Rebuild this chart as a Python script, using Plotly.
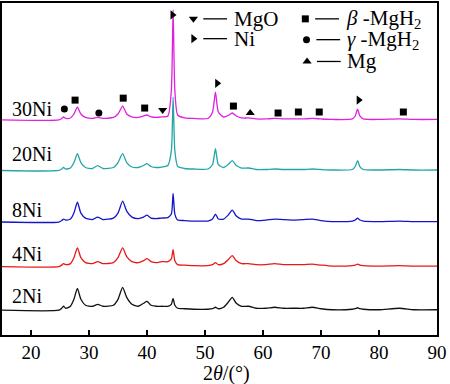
import plotly.graph_objects as go

# ---------------- data ----------------
two_theta = [15, 24.8, 25.3, 25.6, 26.0, 26.8, 27.4, 28.0, 28.6, 29.4, 30.6, 31.5, 32.4,
             34.2, 35.0, 35.8, 36.5, 37.4, 38.5, 39.4, 40.0, 40.7, 41.6, 42.5, 43.6,
             44.2, 44.5, 44.8, 45.3, 46.5, 48, 50.5, 51.3, 51.8, 52.3, 53.2, 54.0, 54.7,
             55.4, 56.3, 57.5, 58.8, 60.5, 62.0, 63.5, 65.5, 67, 68.5, 70, 72, 75.4,
             75.9, 76.3, 76.7, 77.3, 80, 83.5, 86, 90]

int_30Ni = [0, 0, 1.5, 3, 1.5, 2, 6, 13, 6, 2.5, 1.5, 2.5, 1.5,
            2.5, 6, 14, 6, 3, 2.5, 4, 5, 3, 2.5, 3, 4,
            30, 111, 30, 5, 2, 1.5, 1.5, 8, 28, 8, 3, 4.5, 7,
            4, 2, 2, 1, 1, 1.5, 1, 1, 1, 1.5, 1, 0.5, 1,
            4, 11, 4, 1, 0.5, 1, 0.5, 0.5]
int_20Ni = [0, 0, 1.5, 3, 1.5, 2.5, 8, 17, 8, 3, 2, 5, 2,
            3, 8, 17, 8, 3.5, 3, 5, 7, 4, 3, 3.5, 5,
            20, 74, 20, 4, 2, 1.5, 1.5, 6, 22, 6, 3, 6, 10,
            5, 2.5, 2.5, 1, 1, 1.5, 1, 1, 1, 1.5, 1, 0.5, 1,
            4, 10, 4, 1, 0.5, 1, 0.5, 0.5]
int_8Ni = [0, 0, 1.5, 3, 2, 3, 9, 20, 9, 4, 2.5, 5, 2.5,
           4, 9, 21, 11, 5, 3.5, 5, 7, 4, 3.5, 4, 4.5,
           8, 29, 8, 2, 1.5, 1, 1, 3, 8, 3, 3, 7, 12,
           6, 3, 3, 1.5, 2, 3, 2.5, 2, 2.5, 3, 1.5, 0.5, 1,
           2, 4, 2, 1, 0.5, 1, 0.5, 0.5]
int_4Ni = [0, 0, 1.5, 3, 2, 3, 9, 19, 9, 4, 3, 5, 3,
           4, 9, 19, 10, 5, 4, 6, 8, 5, 4, 5, 5,
           8, 17, 6, 2, 1.5, 1, 1, 2, 4, 2, 3, 7, 11,
           6, 3, 3, 2, 2, 3, 2, 2, 2, 2.5, 1.5, 0.5, 1,
           1.5, 2.5, 1.5, 1, 0.5, 1, 0.5, 0.5]
int_2Ni = [0, 0, 2, 4, 2, 4, 11, 22, 11, 5, 4, 6, 4,
           5, 11, 23, 13, 6, 4, 7, 9, 5, 4, 4, 4,
           6, 12, 5, 2, 1.5, 1, 1, 1.5, 3, 1.5, 3, 8, 13,
           7, 4, 4, 2, 2, 3, 2, 2, 2, 3, 1.5, 0.5, 1,
           1.5, 2.5, 1.5, 1, 0.5, 2, 0.5, 0.5]

sample_names = ["2Ni", "4Ni", "8Ni", "20Ni", "30Ni"]
sample_offsets = [25, 69, 114, 166, 217]
sample_colors = ["#111111", "#e81818", "#1414c8", "#22a6a6", "#e020e0"]
sample_intensity = [int_2Ni, int_4Ni, int_8Ni, int_20Ni, int_30Ni]
label_heights = [39, 82, 126, 183, 228]

# phase markers above the 30Ni pattern
phase_theta = [25.75, 27.6, 31.7, 35.9, 39.6, 42.7, 44.4, 52.1, 54.9, 57.8, 62.6, 66.1, 69.7, 76.5, 84.2]
phase_height = [228, 237, 224, 239, 229, 227, 323, 254, 231, 224, 224, 225, 225, 237, 225]
phase_kind = ["gamma", "beta", "gamma", "beta", "beta", "MgO", "Ni", "Ni", "beta", "Mg",
              "beta", "beta", "beta", "Ni", "beta"]

legend_kind = ["MgO", "Ni", "beta", "gamma", "Mg"]
legend_text = ["MgO", "Ni", "<i>β</i> -MgH<sub>2</sub>", "<i>γ</i> -MgH<sub>2</sub>", "Mg"]
legend_theta = [48.0, 48.0, 67.3, 67.5, 67.6]
legend_height = [319, 299, 319, 298, 276]

x_ticks = [20, 30, 40, 50, 60, 70, 80, 90]

symbols = {"MgO": "triangle-down", "Ni": "triangle-right", "beta": "square",
           "gamma": "circle", "Mg": "triangle-up"}
sizes = {"MgO": 8, "Ni": 8, "beta": 7, "gamma": 7, "Mg": 8}

FONT = "Liberation Serif, Times New Roman, serif"

fig = go.Figure()

for name, off, col, inten in zip(sample_names, sample_offsets, sample_colors, sample_intensity):
    fig.add_trace(go.Scatter(
        x=two_theta, y=[off + v for v in inten], mode="lines",
        line=dict(color=col, width=1.3, shape="spline", smoothing=0.6),
        showlegend=False, hoverinfo="skip"))

for kind in symbols:
    xs = [t for t, k in zip(phase_theta, phase_kind) if k == kind]
    ys = [h for h, k in zip(phase_height, phase_kind) if k == kind]
    lx = [t for t, k in zip(legend_theta, legend_kind) if k == kind]
    ly = [h for h, k in zip(legend_height, legend_kind) if k == kind]
    fig.add_trace(go.Scatter(
        x=xs + lx, y=ys + ly, mode="markers",
        marker=dict(symbol=symbols[kind], size=sizes[kind], color="black"),
        showlegend=False, hoverinfo="skip", cliponaxis=False))

# legend dashes and texts
for t, h, txt in zip(legend_theta, legend_height, legend_text):
    fig.add_shape(type="line", x0=t + 1.7, x1=t + 5.8, y0=h, y1=h,
                  line=dict(color="black", width=1.3))
    fig.add_annotation(x=t + 6.6, y=h, text=txt, showarrow=False, xanchor="left",
                       yanchor="middle", font=dict(family=FONT, size=21, color="black"))

for name, h in zip(sample_names, label_heights):
    fig.add_annotation(x=16.4, y=h, text=name, showarrow=False, xanchor="left",
                       yanchor="middle", font=dict(family=FONT, size=20, color="black"))

fig.add_annotation(xref="paper", yref="paper", x=0.515, y=-0.115, yanchor="middle",
                   text="2<i>θ</i>/(°)", showarrow=False,
                   font=dict(family=FONT, size=20, color="black"))

fig.update_xaxes(range=[15, 90], tickvals=x_ticks, ticks="inside", ticklen=5, tickwidth=1.3,
                 tickcolor="black", showline=True, linecolor="black", linewidth=1.6,
                 mirror=True, showgrid=False, zeroline=False,
                 tickfont=dict(family=FONT, size=19, color="black"))
fig.update_yaxes(range=[0, 335], showticklabels=False, ticks="", showline=True,
                 linecolor="black", linewidth=1.6, mirror=True, showgrid=False, zeroline=False)

fig.update_layout(width=450, height=384, margin=dict(l=2, r=13, t=1, b=49),
                  paper_bgcolor="white", plot_bgcolor="white", showlegend=False)

fig.write_html("out.html", config={"displayModeBar": False, "staticPlot": True},
               post_script="document.body.style.margin='0';document.body.style.overflow='hidden';")
